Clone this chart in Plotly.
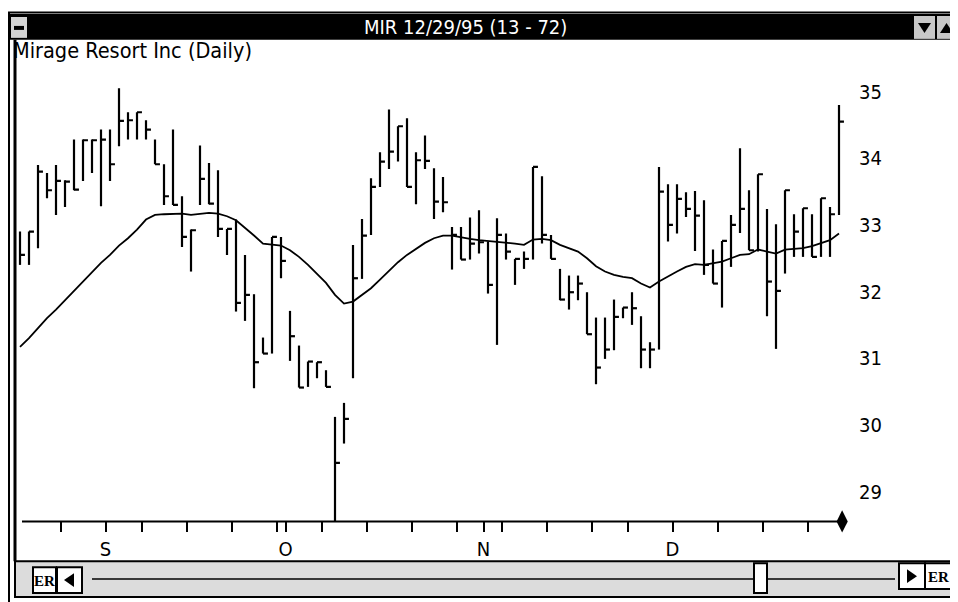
import pandas as pd
import plotly.graph_objects as go

# Dias de pregão de 21/08/95 a 29/12/95 (sem feriados)
holidays = ['1995-09-04', '1995-11-23', '1995-12-25']
dates = [d for d in pd.bdate_range('1995-08-21', '1995-12-29') if d.strftime('%Y-%m-%d') not in holidays]

high = [32.9, 32.9, 33.9, 33.78, 33.9, 33.67, 34.28, 34.28, 34.28, 34.43,
        34.43, 35.05, 34.69, 34.69, 34.57, 34.28, 33.91, 34.43, 33.43, 32.93,
        34.19, 33.93, 33.82, 32.94, 33.08, 32.55, 31.96, 31.31, 32.82, 32.82,
        31.71, 31.19, 30.95, 30.94, 30.82, 30.12, 30.33, 32.7, 33.09, 33.7,
        34.09, 34.73, 34.48, 34.6, 34.09, 34.34, 33.85, 33.72, 32.97, 32.97,
        33.11, 33.22, 32.75, 33.1, 32.87, 32.49, 32.6, 33.87, 33.73, 32.85,
        32.34, 32.24, 32.24, 31.99, 31.61, 31.61, 31.88, 31.76, 31.99, 31.63,
        31.24, 33.87, 33.61, 33.61, 33.49, 33.51, 33.37, 32.63, 32.76, 33.15,
        34.15, 33.52, 33.76, 33.24, 33.01, 33.52, 33.16, 33.25, 33.16, 33.4,
        33.27, 34.8]

low = [32.4, 32.4, 32.65, 33.4, 33.15, 33.27, 33.52, 33.66, 33.78, 33.28,
       33.66, 34.18, 34.28, 34.28, 34.28, 33.91, 33.3, 33.3, 32.67, 32.3,
       33.3, 33.31, 32.82, 32.55, 31.7, 31.56, 30.55, 31.07, 31.07, 32.2,
       30.96, 30.56, 30.57, 30.7, 30.57, 28.55, 29.72, 30.7, 32.19, 32.85,
       33.57, 33.84, 33.95, 33.57, 33.31, 33.84, 33.09, 33.19, 32.33, 32.48,
       32.48, 32.57, 31.97, 31.2, 32.48, 32.1, 32.34, 32.48, 32.72, 32.49,
       31.87, 31.73, 31.87, 31.36, 30.61, 30.99, 31.12, 31.6, 31.5, 30.85,
       30.85, 31.13, 32.75, 32.87, 33.12, 32.61, 32.25, 32.12, 31.76, 32.37,
       32.88, 32.62, 32.6, 31.63, 31.14, 32.27, 32.52, 32.52, 32.52, 32.52,
       32.52, 33.15]

close = [32.55, 32.9, 33.8, 33.52, 33.66, 33.65, 33.53, 34.27, 34.27, 34.28,
         33.91, 34.56, 34.57, 34.69, 34.43, 33.91, 33.43, 33.3, 32.82, 32.92,
         33.69, 33.32, 32.94, 32.94, 31.83, 31.95, 30.94, 31.07, 32.82, 32.46,
         31.33, 30.56, 30.95, 30.94, 30.57, 29.43, 30.09, 32.2, 32.84, 33.57,
         33.95, 34.1, 34.48, 33.57, 33.97, 33.96, 33.35, 33.34, 32.85, 32.48,
         32.72, 32.74, 32.1, 32.85, 32.6, 32.49, 32.49, 33.87, 32.85, 32.49,
         31.88, 31.99, 32.12, 31.36, 30.86, 31.13, 31.62, 31.76, 31.75, 31.13,
         31.13, 33.5, 33.0, 33.39, 33.24, 33.14, 32.4, 32.12, 32.76, 33.0,
         33.24, 32.62, 33.76, 32.15, 32.01, 33.52, 32.9, 33.25, 32.52, 33.4,
         33.16, 34.55]

# Média móvel
ma = [31.17, 31.3, 31.45, 31.6, 31.73, 31.87, 32.02, 32.16, 32.3, 32.43,
      32.55, 32.69, 32.8, 32.93, 33.08, 33.15, 33.16, 33.16, 33.17, 33.15,
      33.16, 33.18, 33.17, 33.13, 33.07, 32.96, 32.84, 32.72, 32.7, 32.69,
      32.62, 32.52, 32.4, 32.27, 32.13, 31.95, 31.82, 31.85, 31.95, 32.05,
      32.18, 32.31, 32.44, 32.55, 32.64, 32.73, 32.8, 32.84, 32.84, 32.81,
      32.79, 32.77, 32.76, 32.75, 32.73, 32.72, 32.7, 32.78, 32.79, 32.77,
      32.7, 32.65, 32.6, 32.5, 32.38, 32.3, 32.25, 32.22, 32.2, 32.12,
      32.06, 32.15, 32.23, 32.3, 32.37, 32.41, 32.4, 32.42, 32.45, 32.5,
      32.55, 32.56, 32.63, 32.6, 32.57, 32.63, 32.64, 32.65, 32.68, 32.72,
      32.77, 32.87]

price_ticks = [29, 30, 31, 32, 33, 34, 35]
month_letters = {9: 'S', 10: 'O', 11: 'N', 12: 'D'}

# a página tem margem de 8px no body: a figura começa em (8, 8)
OFF = 8
W, H = 958 - OFF, 602 - OFF
FONT = 'Liberation Sans Narrow, Arial Narrow, DejaVu Sans Condensed, Liberation Sans, sans-serif'

idx = list(range(len(dates)))

# barras máxima-mínima com fechamento à direita
bx, by = [], []
for i in idx:
    bx += [i, i, None, i, i + 0.55, None]
    by += [low[i], high[i], None, close[i], close[i], None]

# marcas semanais (sextas) e início de mês
tickvals, ticktext = [], []
for i, d in enumerate(dates[:-1]):
    first_of_month = i > 0 and d.month != dates[i - 1].month
    if first_of_month or d.weekday() == 4:
        tickvals.append(i + 0.5)
        ticktext.append(month_letters.get(d.month, '') if first_of_month else '')


def px(x):
    return (x - OFF) / W


def py(y):
    return 1 - (y - OFF) / H


def rect(x0, y0, x1, y1, fill, line='black', lw=0):
    return dict(type='rect', xref='paper', yref='paper', x0=px(x0), x1=px(x1), y0=py(y1), y1=py(y0),
                fillcolor=fill, line=dict(color=line, width=lw), layer='above')


def hline(x0, x1, y, lw=1.5, color='black'):
    return dict(type='line', xref='paper', yref='paper', x0=px(x0), x1=px(x1), y0=py(y), y1=py(y),
                line=dict(color=color, width=lw), layer='above')


def vline(x, y0, y1, lw=1.5, color='black'):
    return dict(type='line', xref='paper', yref='paper', x0=px(x), x1=px(x), y0=py(y0), y1=py(y1),
                line=dict(color=color, width=lw), layer='above')


def tri(points, color='black'):
    path = 'M ' + ' L '.join(f'{px(a)} {py(b)}' for a, b in points) + ' Z'
    return dict(type='path', xref='paper', yref='paper', path=path, fillcolor=color,
                line=dict(color=color, width=0), layer='above')


def label(text, x, y, size, color='black', family=FONT, anchor='center'):
    return dict(text=text, x=px(x), y=py(y), xref='paper', yref='paper', showarrow=False,
                xanchor=anchor, yanchor='middle', font=dict(family=family, size=size, color=color))


fig = go.Figure()
fig.add_trace(go.Scatter(x=idx, y=ma, mode='lines', line=dict(color='black', width=1.8), hoverinfo='skip'))
fig.add_trace(go.Scatter(x=bx, y=by, mode='lines', line=dict(color='black', width=2.2), hoverinfo='skip'))
fig.add_trace(go.Scatter(x=[idx[-1] + 0.35], y=[28.552], mode='markers', cliponaxis=False,
                         marker=dict(symbol='diamond-tall', size=16, color='black'), hoverinfo='skip'))

shapes = [
    hline(8, 958, 9.5, 2),
    rect(8, 11, 958, 37, 'black'),
    rect(11, 14, 27, 35, '#d4d4d4'),
    rect(14, 23, 24, 27, 'black'),
    rect(914, 13, 935, 36, '#c8c8c8'),
    tri([(918, 20), (931, 20), (924.5, 30)]),
    rect(937, 13, 956, 36, '#c8c8c8'),
    tri([(940, 30), (953, 30), (946.5, 20)]),
    vline(9, 10, 602, 2),
    vline(15, 37, 561, 3),
    vline(956, 37, 175, 1.5, '#555555'),
    hline(22, 846, 521, 2),
    rect(15, 561, 958, 597, '#dcdcdc', 'black', 2),
    rect(33, 567, 56, 593, 'white', 'black', 2),
    rect(57, 567, 82, 593, 'white', 'black', 2),
    tri([(64, 580), (74, 573), (74, 587)]),
    hline(92, 895, 579, 1.5),
    rect(754, 563, 767, 593, 'white', 'black', 2),
    rect(899, 563, 925, 589, 'white', 'black', 2),
    tri([(907, 569), (907, 583), (917, 576)]),
    rect(925, 563, 952, 589, 'white', 'black', 2),
]

annotations = [
    label('MIR 12/29/95 (13 - 72)', 465, 24, 20, 'white'),
    label('Mirage Resort Inc (Daily)', 11, 48, 21.5, anchor='left'),
    label('<b>ER</b>', 44.5, 580.5, 15, family='Liberation Serif, serif'),
    label('<b>ER</b>', 938.5, 576.5, 15, family='Liberation Serif, serif'),
]

fig.update_layout(
    width=W, height=H, margin=dict(l=0, r=0, t=0, b=0),
    paper_bgcolor='white', plot_bgcolor='white', showlegend=False,
    shapes=shapes, annotations=annotations,
    xaxis=dict(domain=[px(16), px(848)], range=[-0.444, 92.0], showgrid=False, zeroline=False,
               showline=False, tickmode='array', tickvals=tickvals, ticktext=ticktext,
               ticks='outside', ticklen=10, tickwidth=2, tickcolor='black',
               tickfont=dict(family=FONT, size=20, color='black')),
    yaxis=dict(domain=[py(521), py(80)], range=[28.552, 35.134], side='right', showgrid=False,
               zeroline=False, showline=False, ticks='', tickvals=price_ticks,
               ticklabelstandoff=10, tickfont=dict(family=FONT, size=20, color='black')),
)

fig.write_html("out.html")
